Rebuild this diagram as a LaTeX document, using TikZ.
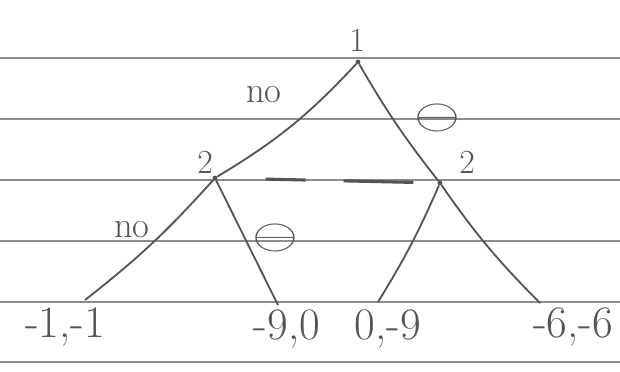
\documentclass[tikz,border=0pt]{standalone}
\usepackage{xcolor}
\usepackage{amsmath}
\usepackage{amssymb}
\usepackage{tikz}
\usetikzlibrary{arrows, positioning, calc}
\definecolor{pencil}{gray}{0.33}
\definecolor{ruling}{gray}{0.55}
\tikzstyle{decision} = [circle, fill=pencil, inner sep=1.2pt]
\tikzstyle{player} = [text=pencil, font=\fontsize{24}{26}\selectfont]
\tikzstyle{action} = [text=pencil, font=\fontsize{26}{28}\selectfont]
\tikzstyle{oaction} = [text=pencil]
\tikzstyle{payoff} = [text=pencil, font=\fontsize{32}{34}\selectfont, inner sep=0pt]
\tikzstyle{branch} = [draw=pencil, line width=1.3pt]
\tikzstyle{infoset} = [draw=pencil, line width=2.2pt, dash pattern=on 10mm off 9.5mm on 19mm off 20mm]
\tikzstyle{rule} = [draw=ruling, line width=0.8pt]
\newcommand{\optout}{\scalebox{4.2}[3.0]{$\ominus$}}

\begin{document}
\begin{tikzpicture}[x=0.25mm, y=-0.25mm]
    \useasboundingbox (0,0) rectangle (620,371);

    % Lineas del papel
    \foreach \ry in {58, 119, 180, 241, 302, 362}
        \draw [rule] (0,\ry) -- (620,\ry);

    % Nodos de decision
    \node (root) [decision] at (358,62) {};
    \node (left) [decision] at (215,178) {};
    \node (right) [decision] at (440,183) {};

    % Hojas
    \coordinate (ll) at (85,300);
    \coordinate (lr) at (278,305);
    \coordinate (rl) at (378,302);
    \coordinate (rr) at (540,303);

    % Jugadores
    \node (p1) [player] at (357,40) {1};
    \node (p2l) [player] at (205,162) {2};
    \node (p2r) [player] at (467,162) {2};

    % Acciones
    \node (notop) [action] at (264,95) {no};
    \node (otop) [oaction] at (437,118) {\optout};
    \node (nolow) [action] at (132,230) {no};
    \node (olow) [oaction] at (275,238) {\optout};

    % Pagos
    \node (payll) [payoff] at (65,327) {-1,-1};
    \node (paylr) [payoff] at (287,329) {-9,0};
    \node (payrl) [payoff] at (388,329) {0,-9};
    \node (payrr) [payoff] at (573,327) {-6,-6};

    % Ramas
    \draw [branch] (root) to[bend left=8] (left);
    \draw [branch] (root) to[bend right=4] (right);
    \draw [branch] (left) to[bend left=5] (ll);
    \draw [branch] (left) -- (lr);
    \draw [branch] (right) to[bend left=4] (rl);
    \draw [branch] (right) to[bend right=5] (rr);

    % Conjunto de informacion
    \draw [infoset, shorten <=12mm, shorten >=6mm] (left) -- (right);

\end{tikzpicture}
\end{document}
